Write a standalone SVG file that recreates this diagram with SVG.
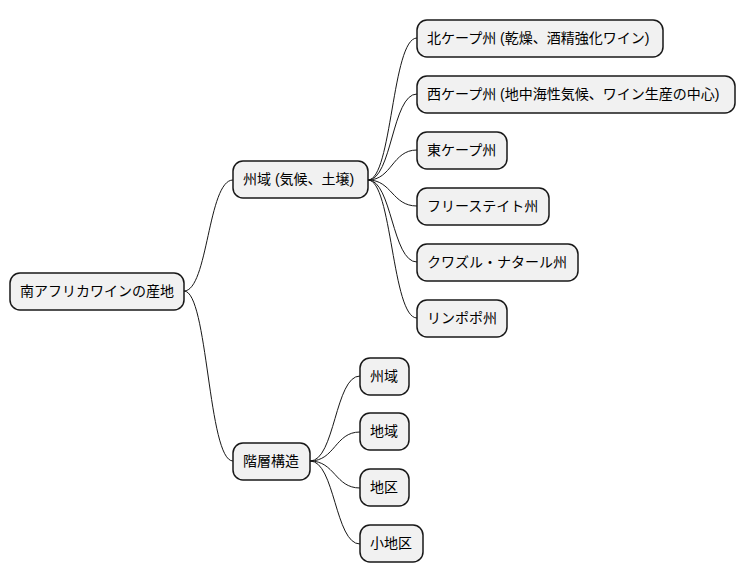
<svg xmlns="http://www.w3.org/2000/svg" width="743" height="583" viewBox="0 0 743 583">
<style>
.n rect{fill:#F1F1F1;stroke:#181818;stroke-width:1.5}
.n text{font-family:"Liberation Sans","Noto Sans CJK JP",sans-serif;font-size:14px;fill:#000}
.c path{fill:none;stroke:#181818;stroke-width:1}
</style>
<rect width="743" height="583" fill="#fff"/>
<g class="c">
<path d="M184,291 C208,291 208,180 233,180"/>
<path d="M184,291 C208,291 208,461 233,461"/>
<path d="M368,180 C392,180 392,38 417,38"/>
<path d="M368,180 C392,180 392,94 417,94"/>
<path d="M368,180 C392,180 392,150 417,150"/>
<path d="M368,180 C392,180 392,206 417,206"/>
<path d="M368,180 C392,180 392,262 417,262"/>
<path d="M368,180 C392,180 392,318 417,318"/>
<path d="M310,461 C335,461 335,376 360,376"/>
<path d="M310,461 C335,461 335,432 360,432"/>
<path d="M310,461 C335,461 335,488 360,488"/>
<path d="M310,461 C335,461 335,544 360,544"/>
</g>
<g id="root" class="n"><rect x="10" y="273" width="174" height="37" rx="10"/><text x="20" y="296">南アフリカワインの産地</text></g>
<g id="shu" class="n"><rect x="233" y="161" width="135" height="37" rx="10"/><text x="243" y="184">州域 (気候、土壌)</text></g>
<g id="kaiso" class="n"><rect x="233" y="443" width="77" height="37" rx="10"/><text x="243" y="466">階層構造</text></g>
<g id="n1" class="n"><rect x="417" y="20" width="246" height="37" rx="10"/><text x="427" y="43">北ケープ州 (乾燥、酒精強化ワイン)</text></g>
<g id="n2" class="n"><rect x="417" y="76" width="318" height="37" rx="10"/><text x="427" y="99">西ケープ州 (地中海性気候、ワイン生産の中心)</text></g>
<g id="n3" class="n"><rect x="417" y="132" width="90" height="37" rx="10"/><text x="427" y="155">東ケープ州</text></g>
<g id="n4" class="n"><rect x="417" y="188" width="132" height="37" rx="10"/><text x="427" y="211">フリーステイト州</text></g>
<g id="n5" class="n"><rect x="417" y="244" width="161" height="37" rx="10"/><text x="427" y="267">クワズル・ナタール州</text></g>
<g id="n6" class="n"><rect x="417" y="300" width="90" height="37" rx="10"/><text x="427" y="323">リンポポ州</text></g>
<g id="m1" class="n"><rect x="360" y="358" width="49" height="37" rx="10"/><text x="370" y="381">州域</text></g>
<g id="m2" class="n"><rect x="360" y="413" width="49" height="37" rx="10"/><text x="370" y="436">地域</text></g>
<g id="m3" class="n"><rect x="360" y="469" width="49" height="37" rx="10"/><text x="370" y="492">地区</text></g>
<g id="m4" class="n"><rect x="360" y="525" width="63" height="37" rx="10"/><text x="370" y="548">小地区</text></g>
</svg>
